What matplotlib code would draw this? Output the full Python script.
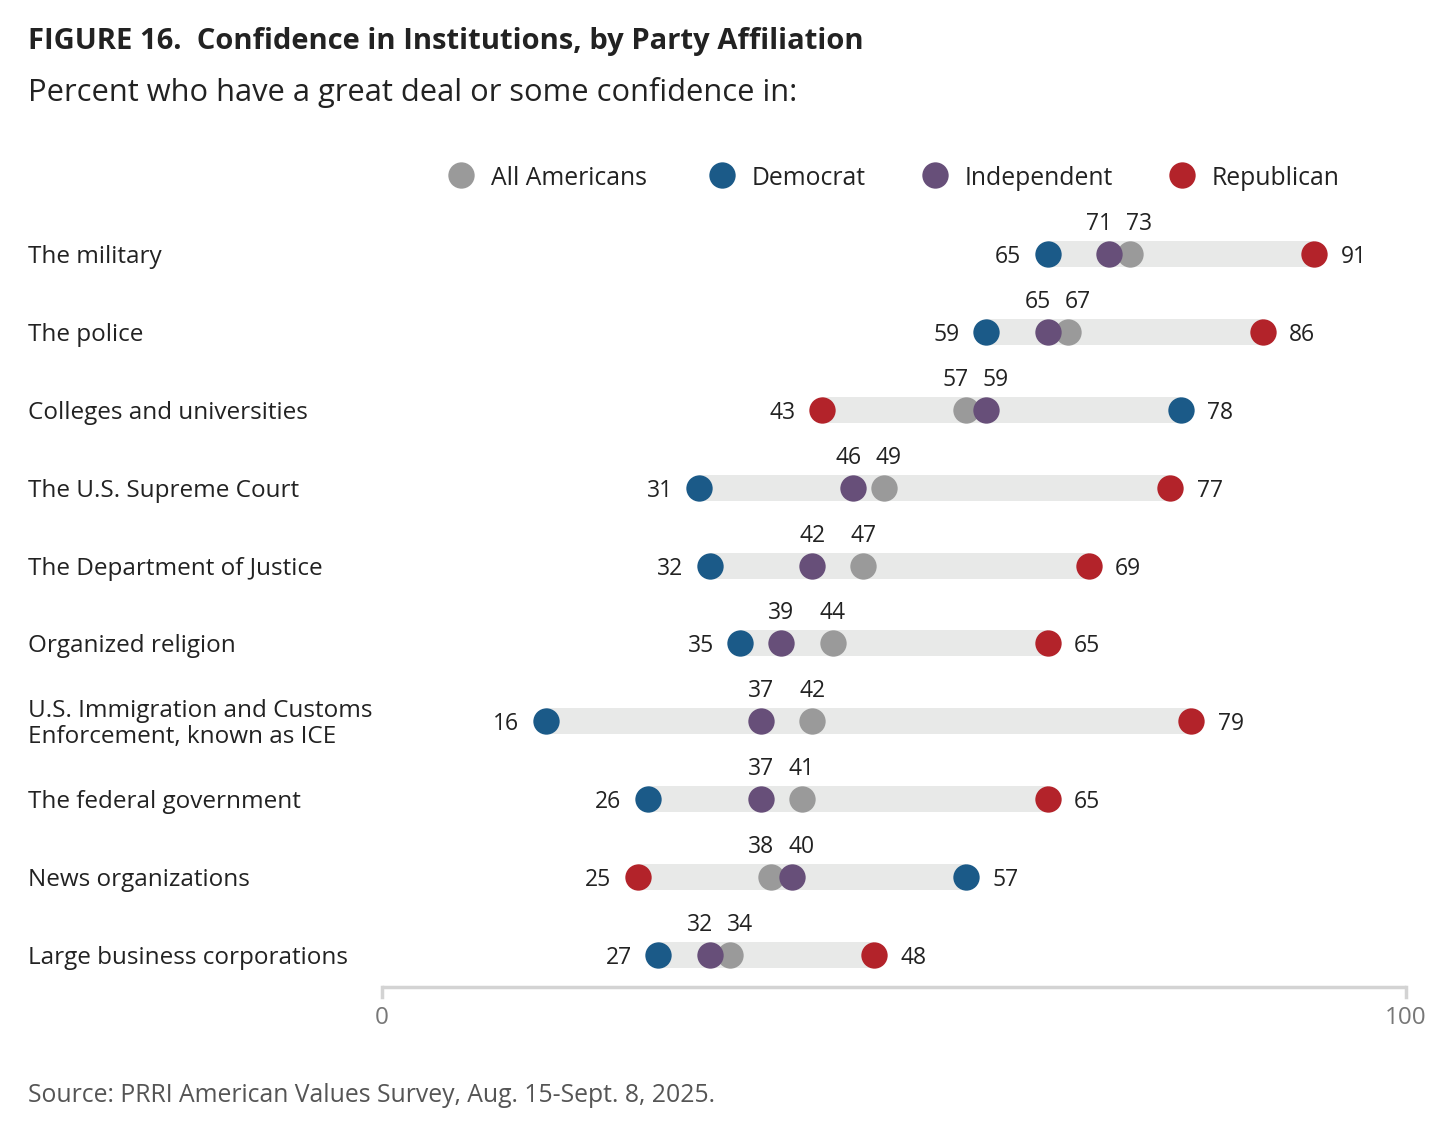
import matplotlib
matplotlib.use('Agg')
import matplotlib.pyplot as plt

plt.rcParams['font.family'] = ['Open Sans', 'DejaVu Sans']

# データ
categories = ['The military', 'The police', 'Colleges and universities',
              'The U.S. Supreme Court', 'The Department of Justice',
              'Organized religion',
              'U.S. Immigration and Customs\nEnforcement, known as ICE',
              'The federal government', 'News organizations',
              'Large business corporations']
all_americans = [73, 67, 57, 49, 47, 44, 42, 41, 38, 34]
democrat = [65, 59, 78, 31, 32, 35, 16, 26, 57, 27]
independent = [71, 65, 59, 46, 42, 39, 37, 37, 40, 32]
republican = [91, 86, 43, 77, 69, 65, 79, 65, 25, 48]

series_names = ['All Americans', 'Democrat', 'Independent', 'Republican']
colors = ['#9a9a9a', '#1b5a88', '#674f79', '#b3232a']
bar_color = '#e8e9e8'
text_color = '#222222'

W, H = 1456, 1129
fig = plt.figure(figsize=(W / 100, H / 100), dpi=100)

# 軸の配置（ピクセル基準）
x0_px, x1_px = 382, 1406
top_px, bot_px = 140, 987
row0_px, row9_px = 254, 955
row_px = (row9_px - row0_px) / 9
ax = fig.add_axes([x0_px / W, 1 - bot_px / H, (x1_px - x0_px) / W, (bot_px - top_px) / H])
ax.set_xlim(0, 100)
ax.set_ylim(9 + (bot_px - row9_px) / row_px, -(row0_px - top_px) / row_px)
ax.axis('off')

px_per_unit = (x1_px - x0_px) / 100.0
values = [all_americans, democrat, independent, republican]
num_fs = 16.5

for i in range(len(categories)):
    row = [v[i] for v in values]
    lo, hi = min(row), max(row)
    ax.barh(i, hi - lo, left=lo, height=26 / row_px, color=bar_color, zorder=1)
    for k in [0, 2, 1, 3]:
        ax.scatter(row[k], i, s=360, color=colors[k], zorder=3, linewidths=0)
    # 最小・最大のラベル
    ax.text(lo - 2.6, i, str(lo), ha='right', va='center_baseline', fontsize=num_fs, color=text_color)
    ax.text(hi + 2.6, i, str(hi), ha='left', va='center_baseline', fontsize=num_fs, color=text_color)
    # 中間の2つは上に
    mids = sorted(row)[1:3]
    a, b = mids
    gap = 40 / px_per_unit
    if b - a < gap:
        m = (a + b) / 2
        a_pos, b_pos = m - gap / 2, m + gap / 2
    else:
        a_pos, b_pos = a, b
    ax.text(a_pos, i - 33 / row_px, str(a), ha='center', va='center_baseline', fontsize=num_fs, color=text_color)
    ax.text(b_pos, i - 33 / row_px, str(b), ha='center', va='center_baseline', fontsize=num_fs, color=text_color)
    # カテゴリ名
    fig.text(28 / W, 1 - (row0_px + 3 + i * row_px) / H, categories[i], ha='left', va='center',
             fontsize=17.5, color=text_color, linespacing=1.1)

# 凡例
legend_x_px = [461, 722, 935, 1182]
legend_y = (175 - row0_px) / row_px
for k, name in enumerate(series_names):
    xd = (legend_x_px[k] - x0_px) / px_per_unit
    ax.scatter(xd, legend_y, s=360, color=colors[k], zorder=3, linewidths=0, clip_on=False)
    ax.text(xd + 30 / px_per_unit, legend_y, name, ha='left', va='center_baseline', fontsize=17.8,
            color=text_color)

# x軸
axis_y = ax.get_ylim()[0]
ax.plot([0, 100], [axis_y, axis_y], color='#d3d3d3', lw=2.5, clip_on=False, solid_capstyle='butt')
for xt in [0, 100]:
    ax.plot([xt, xt], [axis_y, axis_y + 10 / row_px], color='#d3d3d3', lw=2.5, clip_on=False)
    ax.text(xt, axis_y + 28 / row_px, str(xt), ha='center', va='center_baseline', fontsize=17.5,
            color='#777777')

# タイトル
fig.text(28 / W, 1 - 38 / H, 'FIGURE 16.  Confidence in Institutions, by Party Affiliation',
         ha='left', va='center_baseline', fontsize=21, fontweight='bold', color=text_color)
fig.text(28 / W, 1 - 89 / H, 'Percent who have a great deal or some confidence in:',
         ha='left', va='center_baseline', fontsize=22.2, color=text_color)
fig.text(28 / W, 1 - 1093 / H, 'Source: PRRI American Values Survey, Aug. 15-Sept. 8, 2025.',
         ha='left', va='center_baseline', fontsize=17.8, color='#555555')

fig.savefig('out.png', dpi=100, facecolor='white')
